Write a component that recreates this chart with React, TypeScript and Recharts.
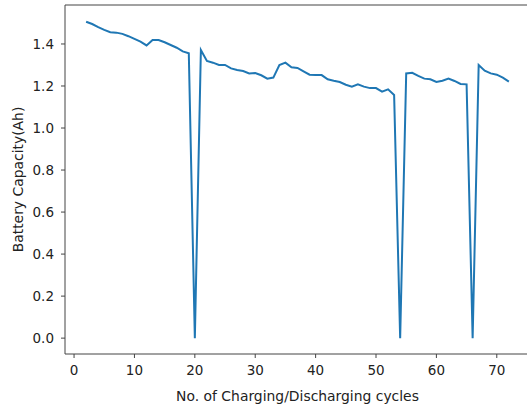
import React from "react";
import { LineChart, Line, XAxis, YAxis, ReferenceLine, Label } from "recharts";

const cycles: number[] = [
  2, 3, 4, 5, 6, 7, 8, 9, 10, 11, 12, 13, 14, 15, 16, 17, 18, 19, 20, 21,
  22, 23, 24, 25, 26, 27, 28, 29, 30, 31, 32, 33, 34, 35, 36, 37, 38, 39, 40, 41,
  42, 43, 44, 45, 46, 47, 48, 49, 50, 51, 52, 53, 54, 55, 56, 57, 58, 59, 60, 61,
  62, 63, 64, 65, 66, 67, 68, 69, 70, 71, 72,
];

const capacity: number[] = [
  1.506, 1.495, 1.48, 1.467, 1.456, 1.454, 1.448, 1.437, 1.424, 1.411, 1.393, 1.419, 1.419, 1.408, 1.395, 1.382, 1.365, 1.356, 0.0, 1.371,
  1.319, 1.311, 1.3, 1.3, 1.284, 1.276, 1.271, 1.26, 1.262, 1.251, 1.235, 1.24, 1.3, 1.311, 1.289, 1.286, 1.27, 1.254, 1.252, 1.252,
  1.232, 1.225, 1.219, 1.206, 1.197, 1.208, 1.197, 1.19, 1.19, 1.173, 1.184, 1.157, 0.0, 1.26, 1.263, 1.248, 1.235, 1.232, 1.219, 1.225,
  1.235, 1.224, 1.21, 1.208, 0.0, 1.3, 1.273, 1.26, 1.254, 1.24, 1.221,
];

const xTicks: number[] = [0, 10, 20, 30, 40, 50, 60, 70];
const yTicks: number[] = [0, 0.2, 0.4, 0.6, 0.8, 1.0, 1.2, 1.4];

const xDomain: [number, number] = [-1.5, 75.5];
const yDomain: [number, number] = [-0.0755, 1.5855];

const data = cycles.map((c, i) => ({ cycle: c, capacity: capacity[i] }));

const font = "'DejaVu Sans', sans-serif";
const axisColor = "#444";
const textColor = "#222";

export default function App() {
  return (
    <div style={{ position: "absolute", left: 0, top: 0, width: 527, height: 410, background: "#fff" }}>
      <LineChart
        width={527}
        height={410}
        data={data}
        margin={{ top: 5, right: -3, bottom: 0, left: 0 }}
      >
        <XAxis
          dataKey="cycle"
          type="number"
          domain={xDomain}
          ticks={xTicks}
          allowDataOverflow
          stroke={axisColor}
          tickLine={{ stroke: axisColor }}
          tickSize={4}
          tickMargin={7}
          tick={{ fill: textColor, fontSize: 13.5, fontFamily: font }}
          height={56}
        >
          <Label
            value="No. of Charging/Discharging cycles"
            position="insideBottom"
            offset={9}
            style={{ fill: textColor, fontSize: 13.9, fontFamily: font }}
          />
        </XAxis>
        <YAxis
          type="number"
          domain={yDomain}
          ticks={yTicks}
          allowDataOverflow
          width={65}
          stroke={axisColor}
          tickLine={{ stroke: axisColor }}
          tickSize={4}
          tickMargin={7}
          tickFormatter={(v: number) => v.toFixed(1)}
          tick={{ fill: textColor, fontSize: 13.5, fontFamily: font }}
        >
          <Label
            value="Battery Capacity(Ah)"
            angle={-90}
            position="insideLeft"
            offset={18}
            style={{ fill: textColor, fontSize: 13.9, fontFamily: font, textAnchor: "middle" }}
          />
        </YAxis>
        <ReferenceLine y={yDomain[1]} stroke={axisColor} ifOverflow="extendDomain" />
        <Line
          type="linear"
          dataKey="capacity"
          stroke="#1f77b4"
          strokeWidth={2}
          dot={false}
          isAnimationActive={false}
        />
      </LineChart>
    </div>
  );
}
